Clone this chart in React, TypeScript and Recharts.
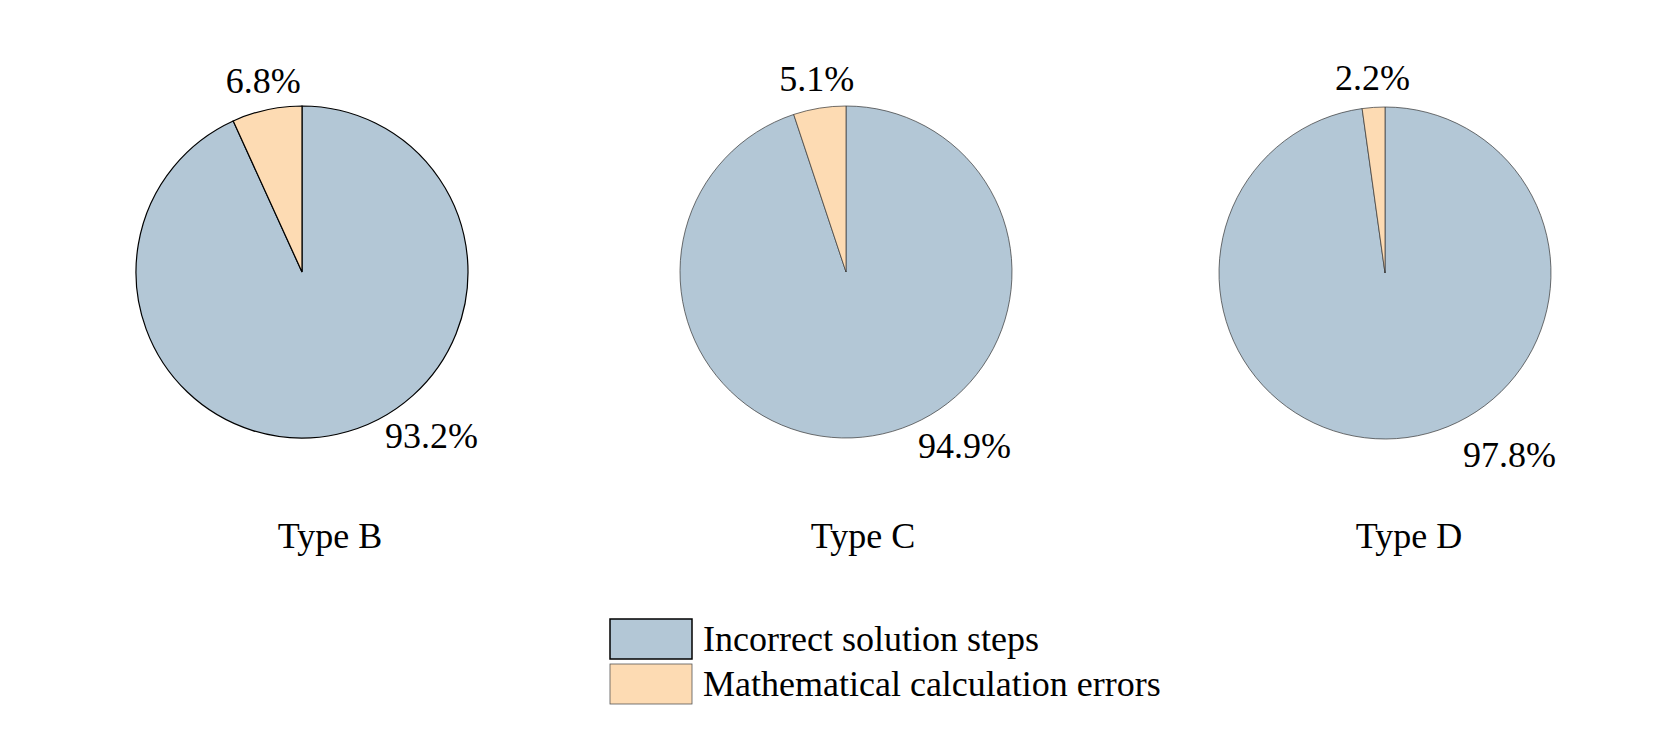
import React from 'react';
import { PieChart, Pie, Cell, Legend, Customized } from 'recharts';

const types = ['Type B', 'Type C', 'Type D'];
const incorrectSteps = [93.2, 94.9, 97.8];
const calcErrors = [6.8, 5.1, 2.2];
const seriesNames = ['Incorrect solution steps', 'Mathematical calculation errors'];

const COLORS = ['#b3c7d6', '#fddbb3'];
const FONT = '"Liberation Serif", "Times New Roman", serif';
const FS = 36;
const RADIAN = Math.PI / 180;

// where each pie sits on the canvas, plus where its big-slice label goes
const PIES = [
  { cx: 302, cy: 272, titleX: 330, labelDx: 83, labelDy: 176, stroke: '#000', strokeWidth: 1.2 },
  { cx: 846, cy: 272, titleX: 863, labelDx: 72, labelDy: 186, stroke: '#333', strokeWidth: 0.7 },
  { cx: 1385, cy: 273, titleX: 1409, labelDx: 78, labelDy: 194, stroke: '#333', strokeWidth: 0.7 },
];
const R = 166;

const makeLabel = (pie: number) => (props: any) => {
  const { cx, cy, midAngle, outerRadius, index, value } = props;
  if (index === 1) {
    const r = outerRadius * 1.1;
    const x = cx + r * Math.cos(-midAngle * RADIAN);
    const y = cy + r * Math.sin(-midAngle * RADIAN);
    return (
      <text x={x} y={y - 1} textAnchor="middle" fill="#000" fontSize={FS} fontFamily={FONT}>
        {value.toFixed(1)}%
      </text>
    );
  }
  return (
    <text
      x={cx + PIES[pie].labelDx}
      y={cy + PIES[pie].labelDy}
      textAnchor="start"
      fill="#000"
      fontSize={FS}
      fontFamily={FONT}
    >
      {value.toFixed(1)}%
    </text>
  );
};

const LegendBox = () => (
  <svg width={600} height={92}>
    {seriesNames.map((name, i) => (
      <g key={name}>
        <rect
          x={2}
          y={2 + i * 45}
          width={82}
          height={40}
          fill={COLORS[i]}
          stroke={i === 0 ? '#000' : '#555'}
          strokeWidth={i === 0 ? 1.5 : 0.8}
        />
        <text x={95} y={34 + i * 45} fontSize={FS} fontFamily={FONT} fill="#000">
          {name}
        </text>
      </g>
    ))}
  </svg>
);

const Titles = () => (
  <g>
    {types.map((t, i) => (
      <text key={t} x={PIES[i].titleX} y={548} textAnchor="middle" fontSize={FS} fontFamily={FONT} fill="#000">
        {t}
      </text>
    ))}
  </g>
);

export default function App() {
  return (
    <div style={{ position: 'fixed', left: 0, top: 0, width: 1661, height: 738, background: '#fff' }}>
      <PieChart width={1661} height={738} margin={{ top: 0, right: 0, bottom: 0, left: 0 }}>
        {types.map((t, i) => {
          const data = [
            { name: seriesNames[0], value: incorrectSteps[i] },
            { name: seriesNames[1], value: calcErrors[i] },
          ];
          return (
            <Pie
              key={t}
              data={data}
              dataKey="value"
              cx={PIES[i].cx}
              cy={PIES[i].cy}
              outerRadius={R}
              startAngle={90}
              endAngle={-270}
              stroke={PIES[i].stroke}
              strokeWidth={PIES[i].strokeWidth}
              label={makeLabel(i)}
              labelLine={false}
              isAnimationActive={false}
            >
              {data.map((d, j) => (
                <Cell key={d.name} fill={COLORS[j]} />
              ))}
            </Pie>
          );
        })}
        <Customized component={Titles} />
        <Legend
          content={() => <LegendBox />}
          wrapperStyle={{ position: 'absolute', left: 608, top: 617, width: 600, height: 92 }}
        />
      </PieChart>
    </div>
  );
}
